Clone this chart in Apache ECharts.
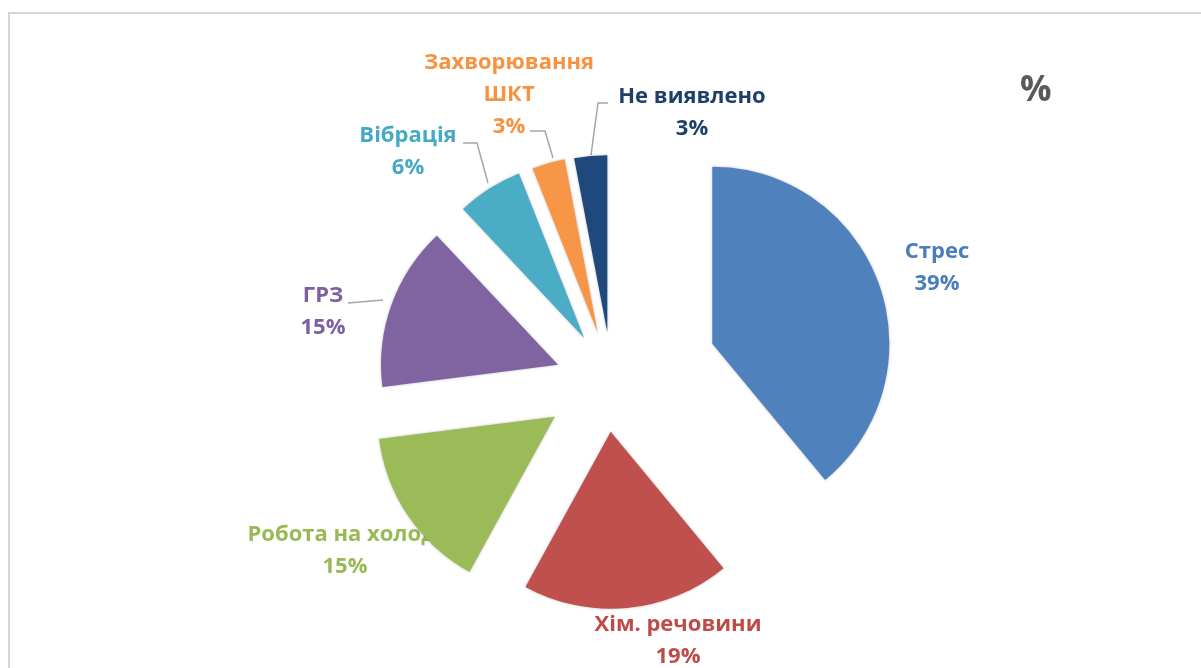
<!DOCTYPE html>
<html>
<head>
<meta charset="utf-8">
<script src="https://cdn.jsdelivr.net/npm/echarts@6/dist/echarts.min.js"></script>
<style>html,body{margin:0;padding:0;background:#fff;}#c{width:1201px;height:668px;}</style>
</head>
<body>
<div id="c"></div>
<script>
// ---- data ----
const categories = ['Стрес', 'Хім. речовини', 'Робота на холоді', 'ГРЗ', 'Вібрація', 'Захворювання\nШКТ', 'Не виявлено'];
const values = [39, 19, 15, 15, 6, 3, 3];
const unitTitle = '%';

// ---- styling / layout (not data) ----
const colors = ['#4f81bd', '#c0504d', '#9bbb59', '#8064a2', '#4bacc6', '#f79646', '#1f497d'];
const labelColors = ['#4a7ebb', '#be4b48', '#98b954', '#7d60a0', '#46aac5', '#f69240', '#1f3f6b'];
const labelPos = [[937, 268], [678, 641], [345, 551], [323, 312], [408, 152], [509, 95], [692, 113]];
const leaderPts = [null, null, null,
  [[348, 303], [383, 300]],
  [[463, 143], [477, 143], [488, 183]],
  [[530, 131], [545, 131], [553, 158]],
  [[608, 103], [598, 103], [591, 155]]];
const explode = [113, 50, 62, 51, 52, 51, 50];
const centerX = [606, 606, 606, 606, 612, 612, 612];
const CENTER_Y = 382, R = 177;

const chart = echarts.init(document.getElementById('c'), null, {renderer: 'canvas'});

const labelSeries = {
  type: 'pie', silent: true, z: 1, center: [606, CENTER_Y], radius: R, startAngle: 90, clockwise: true,
  animation: false, emphasis: {disabled: true},
  data: categories.map((n, i) => ({
    name: n, value: values[i],
    itemStyle: {color: 'rgba(0,0,0,0)', borderWidth: 0},
    label: {color: labelColors[i]},
    labelLine: {show: !!leaderPts[i]}
  })),
  label: {
    show: true, position: 'outside', formatter: p => p.name + '\n' + p.value + '%',
    fontFamily: 'Open Sans', fontWeight: 'bold', fontSize: 22, lineHeight: 32, align: 'center'
  },
  labelLine: {show: true, lineStyle: {color: '#a6a6a6', width: 1.5}, length: 10, length2: 10},
  labelLayout: function (p) {
    const i = p.dataIndex;
    const o = {x: labelPos[i][0], y: labelPos[i][1], align: 'center', verticalAlign: 'middle'};
    if (leaderPts[i]) {
      const pts = leaderPts[i].slice();
      while (pts.length < 3) pts.push(pts[pts.length - 1]);
      o.labelLinePoints = pts;
    }
    return o;
  }
};

function sliceSeries(k) {
  return {
    type: 'pie', silent: true, z: 3, center: [centerX[k], CENTER_Y], radius: R, startAngle: 90, clockwise: true,
    animation: false, emphasis: {disabled: true},
    selectedMode: 'multiple', selectedOffset: explode[k],
    itemStyle: {borderWidth: 0},
    select: {itemStyle: {borderWidth: 0}},
    label: {show: false}, labelLine: {show: false},
    data: categories.map((n, i) => ({
      name: n, value: values[i], selected: i === k,
      itemStyle: {
        color: i === k ? colors[i] : 'rgba(0,0,0,0)',
        shadowBlur: i === k ? 3 : 0, shadowColor: 'rgba(0,0,0,0.25)'
      },
      label: {show: false}, labelLine: {show: false}
    }))
  };
}

chart.setOption({
  backgroundColor: '#ffffff',
  animation: false,
  title: {
    text: unitTitle, left: 1015, top: 69,
    textStyle: {fontFamily: 'Open Sans', fontSize: 35, fontWeight: 'bold', color: '#5a5a5a'}
  },
  graphic: [{
    type: 'rect', silent: true, z: -1,
    shape: {x: 9, y: 13, width: 1400, height: 900},
    style: {fill: 'none', stroke: '#d6d6d6', lineWidth: 2}
  }],
  series: [labelSeries].concat(categories.map((_, k) => sliceSeries(k)))
});
</script>
</body>
</html>
